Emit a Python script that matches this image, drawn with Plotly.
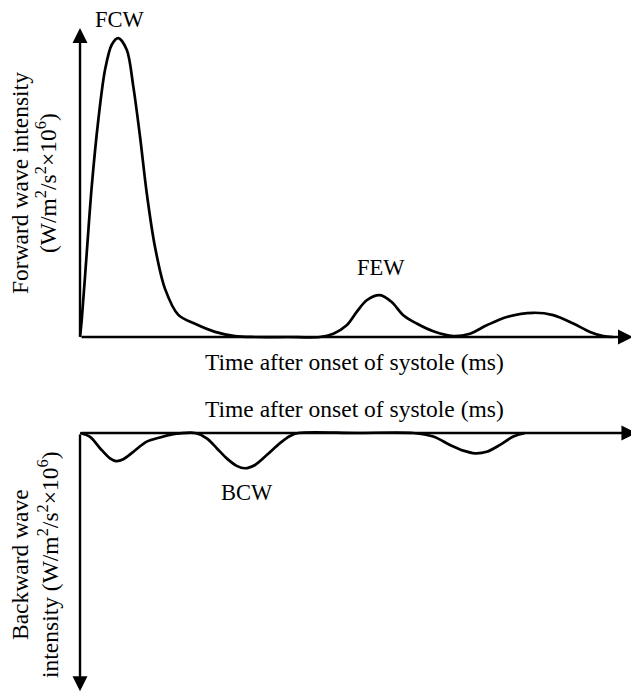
import plotly.graph_objects as go

# ---- data (arbitrary units, time in ms) ----
fwd_time = [0, 2.5, 9.7, 16.9, 26.5, 36.2, 45.9, 55.4, 67.6, 77.1, 86.8, 96.5, 108.5,
            123, 142.2, 166.4, 195.3, 224.2, 253, 300, 347, 366.5, 385.8, 400.3, 414.8,
            434, 450.9, 467.7, 487.1, 511.1, 540, 564.2, 588.4, 617.3, 655.8, 684.7,
            713.7, 737.8, 757, 771]
fwd_intensity = [0, 5.8, 28.1, 50.2, 72.7, 89.4, 97.8, 100, 96.1, 83.8, 67.1, 48.2, 30.1,
                 16.1, 7.4, 4.4, 1.7, 0.3, 0, 0, 0, 1.1, 3.9, 8.4, 12.3,
                 14, 11.7, 7.3, 4.5, 1.9, 0.3, 1.1, 3.9, 6.7, 8.1, 7.3,
                 4.5, 1.7, 0.3, 0]

bwd_time = [0, 14.5, 28.9, 43.4, 52.1, 62.6, 77.1, 96.5, 115.7, 135, 144.7, 166.4,
            183.3, 197.8, 212.2, 226.7, 238.7, 253.2, 270.1, 289.3, 303.8, 315.8, 400,
            482.2, 511.1, 535.3, 554.5, 571.4, 588.4, 607.6, 626.9, 643.8]
bwd_intensity = [0, -1.3, -5.1, -8.5, -9.4, -8.8, -6.3, -2.9, -1.5, -0.4, -0.1, 0,
                 -1.8, -5.1, -8.5, -11, -11.8, -10.7, -7.4, -3.4, -1, 0, 0,
                 0, -1.2, -4, -5.9, -6.8, -6.3, -4, -1.2, 0]

wave_labels = ["FCW", "FEW", "BCW"]
wave_label_time = [57.9, 435.5, 241.6]
wave_label_value = [106.2, 23.1, -19.8]

x_title = "Time after onset of systole (ms)"
fwd_title = ["Forward wave intensity", "(W/m<sup>2</sup>/s<sup>2</sup>×10<sup>6</sup>)"]
bwd_title = ["Backward wave", "intensity (W/m<sup>2</sup>/s<sup>2</sup>×10<sup>6</sup>)"]

# axis extents (data units)
X_RANGE = [-104.2, 808.7]
TOP_X_END, TOP_Y_END = 800, 103.4
BOT_X_END, BOT_Y_END = 805, -86.5

# page body has an 8px margin: figure is sized to fit the window
W, H, OFF = 631, 686, 8
def px(X):
    return (X - OFF) / W
def py(Y):
    return 1 - (Y - OFF) / H

FONT = "Liberation Serif, Times New Roman, serif"
FS = 23.5
LW = 2.7

fig = go.Figure()
fig.add_trace(go.Scatter(x=fwd_time, y=fwd_intensity, mode="lines",
                         line=dict(color="black", width=LW, shape="spline", smoothing=0.9),
                         xaxis="x", yaxis="y", hoverinfo="skip"))
fig.add_trace(go.Scatter(x=bwd_time, y=bwd_intensity, mode="lines",
                         line=dict(color="black", width=LW, shape="spline", smoothing=0.9),
                         xaxis="x2", yaxis="y2", hoverinfo="skip"))

ann = []
def arrow(x, y, ax, ay, xr, yr):
    ann.append(dict(x=x, y=y, ax=ax, ay=ay, xref=xr, yref=yr, axref=xr, ayref=yr,
                    text="", showarrow=True, arrowhead=2, arrowsize=1.25,
                    arrowwidth=2.4, arrowcolor="black", standoff=0, startstandoff=0))

arrow(TOP_X_END, 0, 0, 0, "x", "y")
arrow(0, TOP_Y_END, 0, 0, "x", "y")
arrow(BOT_X_END, 0, 0, 0, "x2", "y2")
arrow(0, BOT_Y_END, 0, 0, "x2", "y2")

refs = [("x", "y"), ("x", "y"), ("x2", "y2")]
for lab, t, v, (xr, yr) in zip(wave_labels, wave_label_time, wave_label_value, refs):
    ann.append(dict(x=t, y=v, xref=xr, yref=yr, text=lab, showarrow=False,
                    xanchor="center", yanchor="middle", borderpad=0,
                    font=dict(family=FONT, size=FS - 1, color="black")))

for Y in [362, 409]:
    ann.append(dict(x=px(354), y=py(Y), xref="paper", yref="paper", text=x_title,
                    showarrow=False, xanchor="center", yanchor="middle",
                    font=dict(family=FONT, size=FS, color="black")))

for txt, X in zip(fwd_title, [20, 46]):
    ann.append(dict(x=px(X), y=py(183), xref="paper", yref="paper", text=txt,
                    textangle=-90, showarrow=False, xanchor="center", yanchor="middle",
                    font=dict(family=FONT, size=FS, color="black")))
for txt, X in zip(bwd_title, [20, 48]):
    ann.append(dict(x=px(X), y=py(565), xref="paper", yref="paper", text=txt,
                    textangle=-90, showarrow=False, xanchor="center", yanchor="middle",
                    font=dict(family=FONT, size=FS, color="black")))

fig.update_layout(
    width=W, height=H, margin=dict(l=0, r=0, t=0, b=0),
    plot_bgcolor="white", paper_bgcolor="white", showlegend=False,
    xaxis=dict(domain=[0, 1], range=X_RANGE, visible=False, anchor="y"),
    yaxis=dict(domain=[0.5, 1], range=[-4.69, 110.1], visible=False, anchor="x"),
    xaxis2=dict(domain=[0, 1], range=X_RANGE, visible=False, anchor="y2"),
    yaxis2=dict(domain=[0, 0.5], range=[-87.38, 27.45], visible=False, anchor="x2"),
    annotations=ann,
)

fig.write_html("out.html")
